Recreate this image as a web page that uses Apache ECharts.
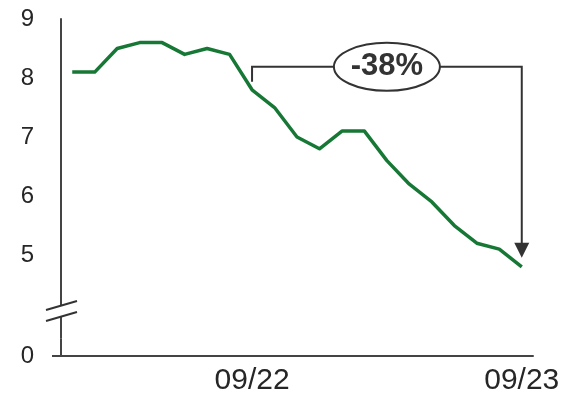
<!DOCTYPE html>
<html>
<head>
<meta charset="utf-8">
<script src="https://cdn.jsdelivr.net/npm/echarts@6/dist/echarts.min.js"></script>
<style>
  html, body { margin: 0; padding: 0; background: #fff; }
  #chart { width: 565px; height: 398px; }
</style>
</head>
<body>
<div id="chart"></div>
<script>
// Monthly series, 01/22 .. 09/23
const months = [
  '01/22', '02/22', '03/22', '04/22', '05/22', '06/22', '07/22', '08/22', '09/22',
  '10/22', '11/22', '12/22', '01/23', '02/23', '03/23', '04/23', '05/23', '06/23',
  '07/23', '08/23', '09/23'
];
const values = [8.1, 8.1, 8.5, 8.6, 8.6, 8.4, 8.5, 8.4, 7.8, 7.5, 7.0, 6.8, 7.1, 7.1, 6.6, 6.2, 5.9, 5.5, 5.2, 5.1, 4.8];

// Axis labels
const xTickLabels = ['09/22', '09/23'];
const yTickValues = [0, 5, 6, 7, 8, 9];

// Broken y-axis span between 0 and 5
const yBreak = { start: 0.3, end: 4.514, gap: 0.925 };

// Change annotated by the bracket
const changeFrom = '09/22';
const changeTo = '09/23';

const INK = '#333333';
const AXIS = '#444444';
const LINE_GREEN = '#177836';
const FONT = '"Liberation Sans", Arial, sans-serif';

const chart = echarts.init(document.getElementById('chart'), null, { renderer: 'canvas' });

chart.setOption({
  animation: false,
  backgroundColor: '#ffffff',
  grid: { left: 61, right: 32, top: 19, bottom: 42, containLabel: false, outerBoundsMode: 'none' },
  xAxis: {
    type: 'category',
    data: months,
    boundaryGap: true,
    axisLine: { show: true, lineStyle: { color: AXIS, width: 2 } },
    axisTick: { show: false },
    axisLabel: {
      interval: (i, v) => xTickLabels.includes(v),
      fontSize: 30,
      fontFamily: FONT,
      color: '#262626',
      margin: 10
    },
    splitLine: { show: false }
  },
  yAxis: {
    type: 'value',
    min: 0,
    max: 9,
    interval: 1,
    breaks: [{ start: yBreak.start, end: yBreak.end, gap: yBreak.gap }],
    breakArea: { show: false },
    axisLine: { show: true, lineStyle: { color: AXIS, width: 2 } },
    axisTick: { show: true, customValues: [0], length: 9, lineStyle: { color: AXIS, width: 2 } },
    axisLabel: {
      customValues: yTickValues,
      fontSize: 24,
      fontFamily: FONT,
      color: '#262626',
      margin: 27
    },
    splitLine: { show: false }
  },
  series: [{
    type: 'line',
    data: values,
    symbol: 'none',
    lineStyle: { color: LINE_GREEN, width: 3.5, join: 'round' },
    itemStyle: { color: LINE_GREEN },
    z: 3
  }]
});

// Bracket, arrow and axis-break marks placed from the library's own scales
function drawOverlay() {
  const i0 = months.indexOf(changeFrom);
  const i1 = months.indexOf(changeTo);
  const p0 = chart.convertToPixel({ gridIndex: 0 }, [i0, values[i0]]);
  const p1 = chart.convertToPixel({ gridIndex: 0 }, [i1, values[i1]]);
  const pct = Math.round((values[i1] / values[i0] - 1) * 100);

  const topY = p0[1] - 23;
  const x0 = p0[0], x1 = p1[0];
  const arrowTip = p1[1] - 9;
  const midX = (x0 + x1) / 2;

  const ya = chart.convertToPixel({ yAxisIndex: 0 }, yBreak.start);
  const yb = chart.convertToPixel({ yAxisIndex: 0 }, yBreak.end);
  const yZero = chart.convertToPixel({ yAxisIndex: 0 }, 0);
  const yMid = (ya + yb) / 2;
  const axX = chart.convertToPixel({ xAxisIndex: 0 }, 0) - (x1 - x0) / (i1 - i0) / 2;

  chart.setOption({
    graphic: [
      {
        type: 'polyline',
        shape: { points: [[x0, p0[1] - 8], [x0, topY], [x1, topY], [x1, arrowTip - 14]] },
        style: { stroke: INK, lineWidth: 2, fill: null },
        z: 10
      },
      {
        type: 'polygon',
        shape: { points: [[x1 - 7.5, arrowTip - 15], [x1 + 7.5, arrowTip - 15], [x1, arrowTip]] },
        style: { fill: INK },
        z: 10
      },
      {
        type: 'ellipse',
        shape: { cx: midX, cy: topY, rx: 53, ry: 24 },
        style: { fill: '#fff', stroke: INK, lineWidth: 2 },
        z: 11
      },
      {
        type: 'text',
        x: midX,
        y: topY,
        style: {
          text: pct + '%',
          fill: INK,
          font: 'bold 31px ' + FONT,
          align: 'center',
          verticalAlign: 'middle'
        },
        z: 12
      },
      // outward tick at the zero baseline
      {
        type: 'line',
        shape: { x1: axX - 9, y1: yZero, x2: axX, y2: yZero },
        style: { stroke: AXIS, lineWidth: 2 },
        z: 10
      },
      // axis line carried into the break, up to the two slashes
      {
        type: 'line',
        shape: { x1: axX, y1: yb, x2: axX, y2: yMid - 5.5 },
        style: { stroke: AXIS, lineWidth: 2 },
        z: 10
      },
      {
        type: 'line',
        shape: { x1: axX, y1: yMid + 5.5, x2: axX, y2: ya },
        style: { stroke: AXIS, lineWidth: 2 },
        z: 10
      },
      {
        type: 'line',
        shape: { x1: axX - 15, y1: yMid - 1, x2: axX + 16, y2: yMid - 10 },
        style: { stroke: INK, lineWidth: 2 },
        z: 11
      },
      {
        type: 'line',
        shape: { x1: axX - 15, y1: yMid + 10, x2: axX + 16, y2: yMid + 1 },
        style: { stroke: INK, lineWidth: 2 },
        z: 11
      }
    ]
  });
}
drawOverlay();
</script>
</body>
</html>
